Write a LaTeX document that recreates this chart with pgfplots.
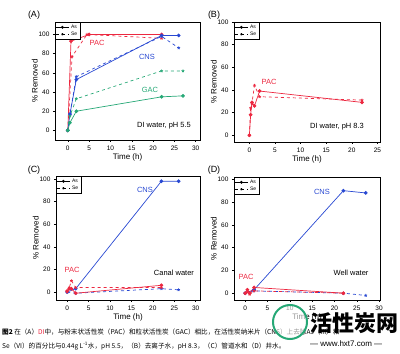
\documentclass[border=0pt]{standalone}
\usepackage{pgfplots}
\pgfplotsset{compat=1.18}
\usepackage{fontspec}
\setmainfont{Liberation Sans}
\newfontfamily\cjk{Noto Sans CJK SC}
\definecolor{cred}{RGB}{236,40,64}
\definecolor{cblue}{RGB}{40,72,210}
\definecolor{cgreen}{RGB}{38,168,118}
\pgfplotsset{
  panel/.style={
    scale only axis,
    anchor=south west,
    /pgf/number format/assume math mode=true,
    tick align=outside,
    xtick pos=bottom, ytick pos=left,
    major tick length=2pt,
    tick style={black, line width=0.5pt},
    axis line style={line width=0.6pt},
    ticklabel style={font=\fontsize{6.5}{7}\selectfont},
    label style={font=\fontsize{8}{9}\selectfont},
    xlabel={Time (h)}, ylabel={\% Removed},
    xlabel style={yshift=3pt},
    ylabel style={yshift=-6pt},
    legend style={at={(0,1)}, anchor=north west, font=\fontsize{5}{5.5}\selectfont,
      inner sep=0.6pt, row sep=-2pt, legend cell align=left, draw=black, line width=0.4pt},
    legend image code/.code={\draw[mark repeat=2,mark phase=2] plot coordinates {(0cm,0cm) (0.22cm,0cm) (0.44cm,0cm)};},
    legend image post style={mark size=1.1pt},
    every axis plot/.append style={line width=0.7pt, mark size=1.5pt},
  },
  asl/.style={solid, mark=*},
  sel/.style={dashed, mark=star, mark options={solid}},
}
\begin{document}
\begin{tikzpicture}
\path (0pt,0pt) rectangle (400pt,354pt);
% ---------------- (A)
\begin{axis}[panel, at={(55pt,214pt)}, width=145pt, height=118pt,
  xmin=-3, xmax=31, ymin=-10, ymax=113, xtick={0,5,...,30}, ytick={0,20,...,100}]
\addlegendimage{black, asl}\addlegendentry{As}
\addlegendimage{black, sel}\addlegendentry{Se}
\addplot[cred, asl, forget plot] coordinates {(0,0)(0.75,93)(5,100)(22,100)};
\addplot[cred, sel, forget plot] coordinates {(0,0)(1,77)(4.5,100)(22,96)};
\addplot[cblue, asl, forget plot] coordinates {(0,0)(0.5,17)(2,53)(22,99)(26,99)};
\addplot[cblue, sel, forget plot] coordinates {(0,0)(0.5,17)(2,56)(22,98)(26,86)};
\addplot[cgreen, asl, forget plot] coordinates {(0,0)(0.5,8)(2,20)(22,35)(27,36)};
\addplot[cgreen, sel, forget plot] coordinates {(0,0)(0.5,15)(2,33)(22,62)(27,62)};
\end{axis}
% ---------------- (B)
\begin{axis}[panel, at={(234pt,212pt)}, width=146pt, height=120pt,
  xmin=-3, xmax=25.5, ymin=-6, ymax=100, xtick={0,5,...,25}, ytick={0,20,...,100}]
\addlegendimage{black, asl}\addlegendentry{As}
\addlegendimage{black, sel}\addlegendentry{Se}
\addplot[cred, asl, forget plot] coordinates {(0,0)(0.25,18)(0.5,29)(1,26)(2,39)(22,29)};
\addplot[cred, sel, forget plot] coordinates {(0,0)(0.25,24)(0.5,28)(1,44)(2,34)(22,31)};
\end{axis}
% ---------------- (C)
\begin{axis}[panel, at={(56pt,54pt)}, width=144pt, height=124pt,
  xmin=-2.6, xmax=31, ymin=-7, ymax=102.6, xtick={0,5,...,30}, ytick={0,20,...,100}]
\addlegendimage{black, asl}\addlegendentry{As}
\addlegendimage{black, sel}\addlegendentry{Se}
\addplot[cblue, asl, forget plot] coordinates {(0,0)(2,3)(22,98)(26,98)};
\addplot[cblue, sel, forget plot] coordinates {(0,0)(2,-1)(22,3)(26,2)};
\addplot[cred, asl, forget plot] coordinates {(0,1)(0.5,3)(1,3)(2,-1)(22,6)};
\addplot[cred, sel, forget plot] coordinates {(0,0)(0.5,4)(1,10)(2,4)(22,4)};
\end{axis}
% ---------------- (D)
\begin{axis}[panel, at={(234pt,54pt)}, width=146pt, height=123pt,
  xmin=-2.5, xmax=30.2, ymin=-6, ymax=102, xtick={0,5,...,30}, ytick={0,20,...,100}]
\addlegendimage{black, asl}\addlegendentry{As}
\addlegendimage{black, sel}\addlegendentry{Se}
\addplot[cblue, asl, forget plot] coordinates {(0,0)(2,3)(22,90)(27,88)};
\addplot[cblue, sel, forget plot] coordinates {(0,0)(2,2)(22,0)(27,-2)};
\addplot[cred, asl, forget plot] coordinates {(0,0)(0.5,3)(1,0)(2,5)(22,0)};
\addplot[cred, sel, forget plot] coordinates {(0,0)(0.5,1)(1,-1)(2,2)(22,0)};
\end{axis}
% panel letters
\begin{scope}[every node/.style={font=\fontsize{9}{10}\selectfont, inner sep=0pt}]
\node at (34pt,339pt) {(A)};
\node at (214pt,339pt) {(B)};
\node at (34pt,184pt) {(C)};
\node at (214pt,184pt) {(D)};
\end{scope}
% annotations
\begin{scope}[every node/.style={font=\fontsize{7.5}{8}\selectfont, inner sep=0pt}]
\node[cred] at (97pt,311pt) {PAC};
\node[cblue] at (147pt,297pt) {CNS};
\node[cgreen] at (150pt,264pt) {GAC};
\node at (164pt,228pt) {DI water, pH 5.5};
\node[cred] at (269pt,272pt) {PAC};
\node at (337pt,227pt) {DI water, pH 8.3};
\node[cblue] at (145pt,164pt) {CNS};
\node[cred] at (72pt,84pt) {PAC};
\node at (174pt,81pt) {Canal water};
\node[cblue] at (322pt,162pt) {CNS};
\node[cred] at (246pt,77pt) {PAC};
\node at (351pt,81pt) {Well water};
\end{scope}
% caption
\node[anchor=west, inner sep=0pt, font=\cjk\fontsize{6.6}{7}\selectfont] at (2pt,22pt)
  {\textbf{图2} 在（A）\textcolor{cred}{DI}中，与粉末状活性炭（PAC）和粒状活性炭（GAC）相比，在活性炭纳米片（CNS）上去除As（III）和};
\node[anchor=west, inner sep=0pt, font=\cjk\fontsize{6.6}{7}\selectfont] at (2pt,8pt)
  {Se（VI）的百分比与0.44g L\textsuperscript{-1}水，pH 5.5，（B）去离子水，pH 8.3，（C）管道水和（D）井水。};
% watermark
\draw[cgreen, line width=2pt, fill=white, fill opacity=0.6] (290pt,32pt) circle (17pt);
\node[font=\cjk\bfseries\fontsize{22}{24}\selectfont, anchor=west, inner sep=0pt] at (310pt,31pt) {活性炭网};
\node[font=\fontsize{8}{9}\selectfont\rmfamily, anchor=west, inner sep=0pt] at (310pt,10pt) {--- www.hxt7.com ---};
\end{tikzpicture}
\end{document}
